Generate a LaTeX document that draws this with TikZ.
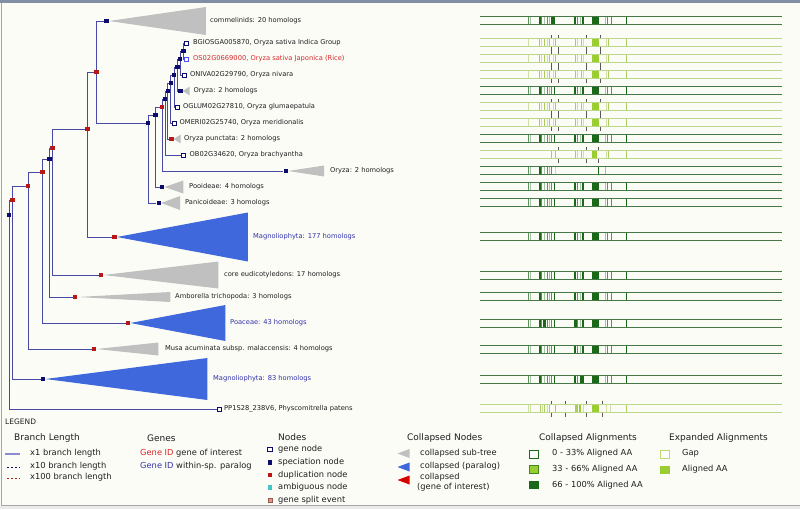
\documentclass[tikz,border=0pt]{standalone}
\usepackage{fontspec}
\setmainfont{DejaVu Sans}
\definecolor{bg}{RGB}{252,252,247}
\definecolor{treeline}{RGB}{72,72,165}
\definecolor{specc}{RGB}{12,12,110}
\definecolor{dupc}{RGB}{185,22,22}
\definecolor{collgray}{RGB}{192,192,192}
\definecolor{collblue}{RGB}{62,104,220}
\definecolor{lblblue}{RGB}{50,50,170}
\definecolor{lblred}{RGB}{215,40,40}
\definecolor{lav}{RGB}{140,140,210}
\definecolor{ad}{RGB}{25,105,25}
\definecolor{am}{RGB}{95,145,95}
\definecolor{al}{RGB}{165,195,165}
\definecolor{bm}{RGB}{170,205,95}
\definecolor{bl}{RGB}{205,225,165}
\definecolor{yg}{RGB}{154,205,50}
\definecolor{rowd}{RGB}{70,120,70}
\definecolor{rowl}{RGB}{190,215,140}
\definecolor{txt}{RGB}{30,30,30}
\newcommand\alrow[3]{%
  \foreach \bx/\bw/\bc in #3 {\fill[\bc] (\bx,#1-4) rectangle (\bx+\bw,#1+4);}
  \draw[#2,line width=0.9pt] (480,#1-4) -- (782,#1-4) (480,#1+4) -- (782,#1+4);}
\newcommand\gapticks[2]{%
  \foreach \tx in #2 {\draw[black!65,line width=0.5pt] (\tx,#1-8) -- (\tx,#1-4.5) (\tx,#1+4.5) -- (\tx,#1+8);}}
\def\darkpat{528/1/am,529.8/1/al,539.2/1.3/ad,541.2/1/am,544.3/1/al,546.6/1/am,549.1/1/al,551.4/1/am,554.1/1.3/ad,574.3/1.4/ad,576.8/1/am,579.8/1/al,582.4/1.4/ad,592.3/6.7/ad,605/1/al,607.3/1/am,610.5/1/am,625.6/1.4/ad}
\def\firstpat{550.7/4.6/ad}
\def\poapat{542.7/3/ad,574.3/3/ad}
\def\magpat{580/3/ad}
\def\farpat{528/1/am,529.8/1/al,539.2/1.3/ad,541.2/1/am,544.3/1/al,546.6/1/am,549.1/1/al,551.4/1/am,554.5/1/bl,597.7/1.4/ad,604.7/1/bm}
\def\lightpat{528/1/bl,539.3/1/bm,541.3/1/bl,544/1/bm,546.7/1/bl,549.3/1/bm,553/1/bl,555/1/bm,575/1/bm,577.3/1/bl,580.5/1/bm,582.5/1/bl,592.3/6.5/yg,605.5/1/bl,608.3/1/bm,626/1/bm}
\def\obpat{551/1/bm,555/1/bm,575/1/bm,577.3/1/bl,580.5/1/bm,582.5/1/bl,592.3/4.5/yg,605.5/1/bl,608.3/1/bm,626/1/bm}
\def\pppat{527.5/1/bl,529.7/1/bl,539.5/1/bm,542/1/bl,544.3/1/bm,546.7/1/bl,549.3/1/bm,555/1/bm,575/2.5/bm,578.5/2/yg,583/1/bl,592.3/6.5/yg,605.5/1/bl,610/1/bl,626/1/bm}
\def\stdticks{551,558.3,586.7,600.5}
\begin{document}
\begin{tikzpicture}[x=1pt,y=-1pt,
  tl/.style={draw=treeline,line width=0.85pt},
  sp/.style={rectangle,fill=specc,minimum size=4.4pt,inner sep=0pt},
  du/.style={rectangle,fill=dupc,minimum size=4.4pt,inner sep=0pt},
  gn/.style={rectangle,draw=specc,fill=white,line width=0.7pt,minimum size=4pt,inner sep=0pt},
  lbl/.style={anchor=west,inner sep=0pt,text=txt,font=\fontsize{6.7}{7}\selectfont},
  lgt/.style={anchor=west,inner sep=0pt,text=txt,font=\fontsize{8.3}{10}\selectfont},
  hd/.style={anchor=west,inner sep=0pt,text=txt,font=\fontsize{9}{11}\selectfont}]
\useasboundingbox (0,0) rectangle (800,509);
\fill[bg] (0,0) rectangle (800,509);
\fill[black!8] (0,505.5) rectangle (800,509);
\fill[color={rgb,255:red,128;green,143;blue,166}] (0,0) rectangle (800,2.5);
\draw[black!35,line width=1pt] (1,2.5) -- (1,505.5) -- (800,505.5);

% ---------- tree nodes ----------
\node[sp] (A) at (9,215) {};
\node[du] (B) at (12.5,200) {};
\node[du] (C) at (28,186) {};
\node[du] (D) at (42.5,172) {};
\node[sp] (E) at (49.5,159) {};
\node[du] (F) at (52.5,148) {};
\node[du] (G) at (87.5,129) {};
\node[du] (H) at (96.5,72) {};
\node[sp] (I) at (106.5,21) {};
\node[sp] (J) at (148,123) {};
\node[du] (K) at (114.5,237) {};
\node[du] (L) at (101,275) {};
\node[du] (M) at (75,297) {};
\node[du] (N) at (128,323) {};
\node[du] (O) at (94,349) {};
\node[sp] (P) at (43,379) {};
\node[gn] (Q) at (219,409) {};
% oryza clade
\node[sp] (n9) at (155.3,115) {};
\node[du] (n8) at (162,107) {};
\node[sp] (n7) at (165,99) {};
\node[sp] (n6) at (167.7,91) {};
\node[sp] (n5) at (170.7,83) {};
\node[sp] (n4) at (174,75) {};
\node[sp] (n3) at (177.3,67) {};
\node[sp] (n2) at (180,59) {};
\node[sp] (n1) at (183.3,51) {};
\node[gn] (bg) at (186.3,43) {};
\node[gn,draw=blue!70] (os) at (186.5,59) {};
\node[gn] (oniva) at (184,75) {};
\node[sp] (ory) at (180.3,91) {};
\node[gn] (oglum) at (177.3,107) {};
\node[gn] (omeri) at (174,123) {};
\node[du] (punct) at (171.3,139) {};
\node[gn] (ob) at (183.7,155) {};
\node[sp] (far) at (285.7,171) {};
\node[sp] (poo) at (162,187) {};
\node[sp] (pan) at (158.7,203) {};

% ---------- edges ----------
\foreach \p/\c in {A/B,A/Q,B/C,B/P,C/D,C/O,D/E,D/N,E/F,E/M,F/G,F/L,G/H,G/K,H/I,H/J,
  J/n9,J/pan,n9/n8,n9/poo,n8/n7,n8/far,n7/n6,n7/ob,n6/n5,n6/punct,n5/n4,n5/omeri,
  n4/n3,n4/oglum,n3/n2,n3/ory,n2/n1,n2/oniva,n1/bg,n1/os}
  \draw[tl] (\p) |- (\c);

% ---------- collapsed triangles ----------
\fill[collgray] (I.east) -- ++(97,-14) -- ++(0,28) -- cycle;
\fill[collgray] (ory.east) -- ++(7,-4.5) -- ++(0,9) -- cycle;
\fill[collgray] (punct.east) -- ++(7,-4.5) -- ++(0,9) -- cycle;
\fill[collgray] (far.east) -- ++(36,-5.5) -- ++(0,11) -- cycle;
\fill[collgray] (poo.east) -- ++(19,-6.5) -- ++(0,13) -- cycle;
\fill[collgray] (pan.east) -- ++(19,-7) -- ++(0,14) -- cycle;
\fill[collblue] (K.east) -- ++(131,-24.5) -- ++(0,49) -- cycle;
\fill[collgray] (L.east) -- ++(115,-13.5) -- ++(0,27) -- cycle;
\fill[collgray] (M.east) -- ++(93,-5) -- ++(0,10) -- cycle;
\fill[collblue] (N.east) -- ++(95,-18) -- ++(0,36) -- cycle;
\fill[collgray] (O.east) -- ++(62,-6.5) -- ++(0,13) -- cycle;
\fill[collblue] (P.east) -- ++(162,-21) -- ++(0,42) -- cycle;

% ---------- labels ----------
\node[lbl] (tI) at (210,20.5) {commelinids: 20 homologs};
\node[lbl] (tbg) at (193,42.5) {BGIOSGA005870, Oryza sativa Indica Group};
\node[lbl,text=lblred] (tos) at (193,58.5) {OS02G0669000, Oryza sativa Japonica (Rice)};
\node[lbl] (toniva) at (190,74.5) {ONIVA02G29790, Oryza nivara};
\node[lbl] (tory) at (193.5,90.5) {Oryza: 2 homologs};
\node[lbl] (toglum) at (183,106.5) {OGLUM02G27810, Oryza glumaepatula};
\node[lbl] (tomeri) at (179.5,122.5) {OMERI02G25740, Oryza meridionalis};
\node[lbl] (tpunct) at (184,138.5) {Oryza punctata: 2 homologs};
\node[lbl] (tob) at (189.5,154.5) {OB02G34620, Oryza brachyantha};
\node[lbl] (tfar) at (330,170.5) {Oryza: 2 homologs};
\node[lbl] (tpoo) at (189,186.5) {Pooideae: 4 homologs};
\node[lbl] (tpan) at (185,202.5) {Panicoideae: 3 homologs};
\node[lbl,text=lblblue] (tK) at (253,236.5) {Magnoliophyta: 177 homologs};
\node[lbl] (tL) at (224,275) {core eudicotyledons: 17 homologs};
\node[lbl] (tM) at (175,296.5) {Amborella trichopoda: 3 homologs};
\node[lbl,text=lblblue] (tN) at (230,323) {Poaceae: 43 homologs};
\node[lbl] (tO) at (165,349) {Musa acuminata subsp. malaccensis: 4 homologs};
\node[lbl,text=lblblue] (tP) at (213,379) {Magnoliophyta: 83 homologs};
\node[lbl] (tQ) at (224,408.5) {PP1S28\_238V6, Physcomitrella patens};

% ---------- alignments ----------
\alrow{20.5}{rowd}{\darkpat}
\alrow{20.5}{rowd}{\firstpat}
\foreach \ry in {42.5,58.5,74.5,106.5,122.5} {\alrow{\ry}{rowl}{\lightpat}\gapticks{\ry}{\stdticks}}
\foreach \ry in {90.5,138.5,186.5,202.5,236.5,275,296.5,323,349,379} {\alrow{\ry}{rowd}{\darkpat}}
\alrow{323}{rowd}{\poapat}
\alrow{379}{rowd}{\magpat}
\alrow{154.5}{rowl}{\obpat}
\gapticks{154.5}{{558.3,586.7,598.3}}
\alrow{170.5}{rowd}{\farpat}
\alrow{408.5}{rowl}{\pppat}
\gapticks{408.5}{{551,565.7,586.7,602.7}}

% ---------- legend ----------
\node[anchor=west,inner sep=0pt,text=txt,font=\fontsize{7.5}{9}\selectfont] (lg) at (5,422) {LEGEND};
\node[hd] (hbl) at (14,438) {Branch Length};
\draw[lav,line width=1.1pt] (5,454) -- (20,454);
\draw[specc,line width=0.8pt,dash pattern=on 2pt off 2pt] (7,467) -- (20,467);
\draw[dupc,line width=0.8pt,dash pattern=on 2pt off 2pt] (7,478) -- (20,478);
\node[lgt] (b1) at (30,453.5) {x1 branch length};
\node[lgt] (b2) at (30,466) {x10 branch length};
\node[lgt] (b3) at (30,477.5) {x100 branch length};

\node[hd] (hg) at (147,438) {Genes};
\node[lgt] (g1) at (140,453.5) {\textcolor{lblred}{Gene ID} gene of interest};
\node[lgt] (g2) at (140,466) {\textcolor{lblblue}{Gene ID} within-sp. paralog};

\node[hd] (hn) at (278,437.5) {Nodes};
\node[gn,minimum size=4.4pt] (k1) at (270,449.5) {};
\node[sp] (k2) at (270,462.5) {};
\node[du] (k3) at (270,475) {};
\node[rectangle,fill={rgb,255:red,64;green,200;blue,200},minimum size=4.4pt,inner sep=0pt] (k4) at (270,487.5) {};
\node[rectangle,fill={rgb,255:red,225;green,150;blue,130},draw={rgb,255:red,150;green,90;blue,80},line width=0.6pt,minimum size=4.2pt,inner sep=0pt] (k5) at (270,500.5) {};
\node[lgt] (n1t) at (278,449.5) {gene node};
\node[lgt] (n2t) at (278,462.5) {speciation node};
\node[lgt] (n3t) at (278,475) {duplication node};
\node[lgt] (n4t) at (278,487.5) {ambiguous node};
\node[lgt] (n5t) at (278,500.5) {gene split event};

\node[hd] (hc) at (407,438) {Collapsed Nodes};
\fill[collgray] (397.5,453.5) -- (409.5,449) -- (409.5,458) -- cycle;
\fill[collblue] (397.5,467) -- (409.5,462.5) -- (409.5,471.5) -- cycle;
\fill[red!85!black] (397.5,480) -- (409.5,475.5) -- (409.5,484.5) -- cycle;
\node[lgt] (c1) at (420,453.5) {collapsed sub-tree};
\node[lgt] (c2) at (420,466) {collapsed (paralog)};
\node[lgt] (c3) at (420,477.5) {collapsed};
\node[lgt] (c4) at (417,487.5) {(gene of interest)};

\node[hd] (ha) at (539,438) {Collapsed Alignments};
\draw[ad,fill=white,line width=0.8pt] (529.5,450) rectangle (538,458);
\draw[ad!70!yg,fill=yg,line width=0.8pt] (529.5,465.5) rectangle (538,473.5);
\fill[ad] (529,481) rectangle (538.5,489);
\node[lgt] (a1) at (552,453.5) {0 - 33\% Aligned AA};
\node[lgt] (a2) at (552,469.5) {33 - 66\% Aligned AA};
\node[lgt] (a3) at (552,485) {66 - 100\% Aligned AA};

\node[hd] (he) at (669,438) {Expanded Alignments};
\draw[yg!70,fill=white,line width=0.8pt] (660.5,450) rectangle (669,458);
\fill[yg] (660,465.5) rectangle (669.5,473.5);
\node[lgt] (e1) at (682,453.5) {Gap};
\node[lgt] (e2) at (682,469.5) {Aligned AA};
\end{tikzpicture}
\end{document}
